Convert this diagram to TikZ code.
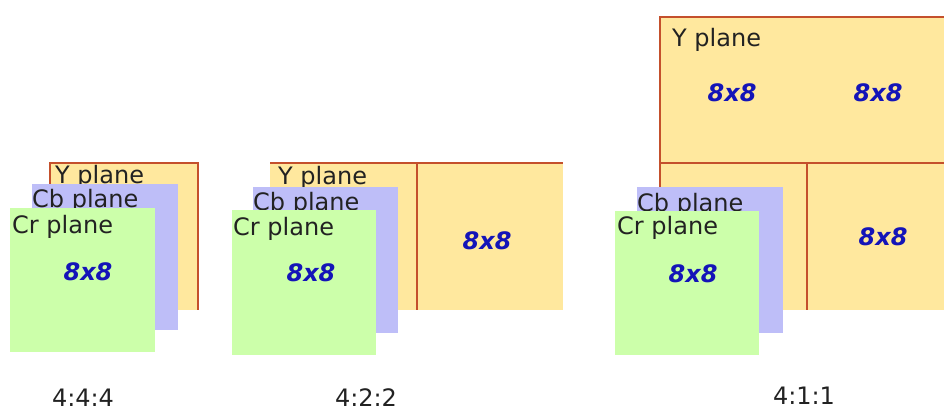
\documentclass[tikz,border=0pt]{standalone}
\usepackage{fontspec}
\setmainfont{DejaVu Sans}
\definecolor{yfill}{HTML}{FFE89E}
\definecolor{cbfill}{HTML}{BEBEF8}
\definecolor{crfill}{HTML}{CCFFAA}
\definecolor{edge}{HTML}{C4502C}
\definecolor{blk}{HTML}{222222}
\definecolor{blu}{HTML}{1414B8}
\tikzset{
  yplane/.style={fill=yfill},
  cbplane/.style={fill=cbfill},
  crplane/.style={fill=crfill},
  border/.style={draw=edge, line width=1.6pt},
  lbl/.style={anchor=base west, inner sep=0pt, text=blk, font=\fontsize{24}{24}\selectfont},
  blk8/.style={anchor=center, inner sep=0pt, text=blu, font=\fontsize{24}{24}\selectfont\bfseries\itshape},
  ratio/.style={anchor=base, inner sep=0pt, text=blk, font=\fontsize{24}{24}\selectfont}
}
\begin{document}
\begin{tikzpicture}[x=1pt, y=-1pt]
\useasboundingbox (0,0) rectangle (944,412);
\fill[white] (0,0) rectangle (944,412);
% ---------- 4:4:4 ----------
\fill[yplane] (50,163) rectangle (198,310);
\draw[border] (50,310) -- (50,163) -- (198,163) -- (198,310);
\node[lbl] (y1) at (55,183) {Y plane};
\fill[cbplane] (32,184) rectangle (178,330);
\node[lbl] (cb1) at (32,207) {Cb plane};
\fill[crplane] (10,208) rectangle (155,352);
\node[lbl] (cr1) at (12,233) {Cr plane};
\node[blk8] (b1) at (88,272) {8x8};
\node[ratio] (r1) at (83,406) {4:4:4};
% ---------- 4:2:2 ----------
\fill[yplane] (270,163) rectangle (563,310);
\draw[border] (270,163) -- (563,163);
\draw[border] (417,163) -- (417,310);
\node[lbl] (y2) at (278,184) {Y plane};
\node[blk8] (b2y) at (487,241) {8x8};
\fill[cbplane] (253,187) rectangle (398,333);
\node[lbl] (cb2) at (253,210) {Cb plane};
\fill[crplane] (232,210) rectangle (376,355);
\node[lbl] (cr2) at (233,235) {Cr plane};
\node[blk8] (b2) at (311,273) {8x8};
\node[ratio] (r2) at (366,406) {4:2:2};
% ---------- 4:1:1 ----------
\fill[yplane] (660,17) rectangle (944,310);
\draw[border] (660,310) -- (660,17) -- (944,17);
\draw[border] (660,163) -- (944,163);
\draw[border] (807,163) -- (807,310);
\node[lbl] (y3) at (672,46) {Y plane};
\node[blk8] (b3a) at (732,93) {8x8};
\node[blk8] (b3b) at (878,93) {8x8};
\node[blk8] (b3c) at (883,237) {8x8};
\fill[cbplane] (637,187) rectangle (783,333);
\node[lbl] (cb3) at (637,211) {Cb plane};
\fill[crplane] (615,211) rectangle (759,355);
\node[lbl] (cr3) at (617,234) {Cr plane};
\node[blk8] (b3) at (693,274) {8x8};
\node[ratio] (r3) at (804,404) {4:1:1};
\end{tikzpicture}
\end{document}
